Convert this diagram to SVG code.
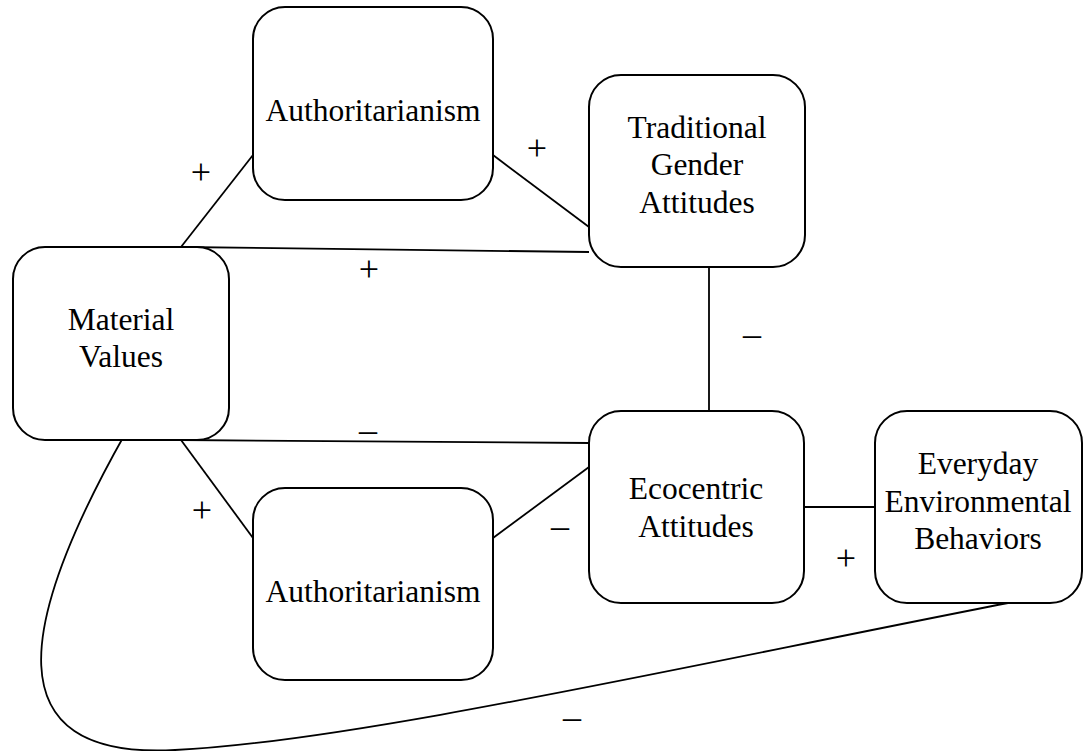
<svg xmlns="http://www.w3.org/2000/svg" width="1088" height="751" viewBox="0 0 1088 751">
<style>
.box{fill:#fff;stroke:#000;stroke-width:2}
.con{fill:none;stroke:#000;stroke-width:1.8}
</style>
<rect width="1088" height="751" fill="#fff"/>
<g id="connectors">
<line class="con" x1="181" y1="247" x2="253" y2="155"/>
<line class="con" x1="493" y1="155" x2="589" y2="227"/>
<line class="con" x1="181" y1="247" x2="589" y2="252"/>
<line class="con" x1="709" y1="267" x2="709" y2="411"/>
<line class="con" x1="181" y1="440" x2="589" y2="443"/>
<line class="con" x1="181" y1="440" x2="253" y2="538"/>
<line class="con" x1="493" y1="538" x2="589" y2="467"/>
<line class="con" x1="803" y1="507" x2="875" y2="507"/>
<path class="con" d="M125,434 C20,620 -10,760 175,750 C350,742 690,665 1008,603"/>
</g>
<g font-family="Liberation Serif, Times New Roman, serif" font-size="31.5" fill="#000" text-anchor="middle">
<g id="n-material">
<rect class="box" x="13" y="247" width="216" height="193" rx="32"/>
<text x="121" y="330">Material</text>
<text x="121" y="367">Values</text>
</g>
<g id="n-auth-top">
<rect class="box" x="253" y="7" width="240" height="193" rx="32"/>
<text x="373" y="121">Authoritarianism</text>
</g>
<g id="n-tga">
<rect class="box" x="589" y="75" width="216" height="192" rx="32"/>
<text x="697" y="138">Traditional</text>
<text x="697" y="175">Gender</text>
<text x="697" y="213">Attitudes</text>
</g>
<g id="n-eco">
<rect class="box" x="589" y="411" width="215" height="192" rx="32"/>
<text x="696" y="499">Ecocentric</text>
<text x="696" y="537">Attitudes</text>
</g>
<g id="n-eeb">
<rect class="box" x="875" y="411" width="207" height="192" rx="32"/>
<text x="978" y="474">Everyday</text>
<text x="978" y="512">Environmental</text>
<text x="978" y="549">Behaviors</text>
</g>
<g id="n-auth-bottom">
<rect class="box" x="253" y="488" width="240" height="192" rx="32"/>
<text x="373" y="602">Authoritarianism</text>
</g>
<g id="signs" font-size="36">
<text x="201" y="184">+</text>
<text x="537" y="160">+</text>
<text x="369" y="281">+</text>
<text x="752" y="346">–</text>
<text x="368" y="442">–</text>
<text x="560" y="538">–</text>
<text x="202" y="522">+</text>
<text x="846" y="570">+</text>
<text x="572" y="729">–</text>
</g>
</g>
</svg>
